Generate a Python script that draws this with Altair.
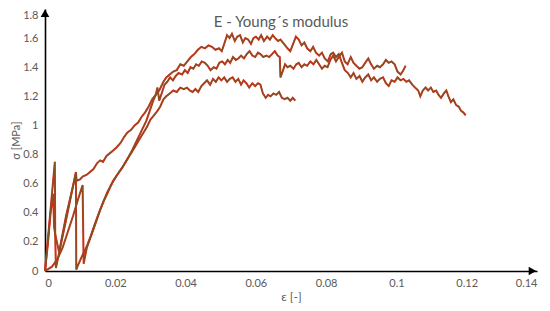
import altair as alt
import pandas as pd

# ---- data ----
a_strain = [0, 0.0012, 0.0028, 0.0029, 0.0031, 0.0060, 0.0088, 0.0090, 0.0100, 0.0108, 0.0118, 0.0128, 0.0138,
            0.0148, 0.0157, 0.0165, 0.0175, 0.0190, 0.0204, 0.0215, 0.0225, 0.0234, 0.0245, 0.0255, 0.0265,
            0.0275, 0.0285, 0.0295, 0.0305, 0.0315, 0.0325, 0.0337, 0.0345, 0.0355, 0.0365, 0.0375, 0.0385,
            0.0395, 0.0405, 0.0415, 0.0425, 0.0435, 0.0445, 0.0455, 0.0465, 0.0475, 0.0485, 0.0495, 0.0503,
            0.0510, 0.0518, 0.0525, 0.0532, 0.0540, 0.0547, 0.0555, 0.0563, 0.0570, 0.0578, 0.0586, 0.0593,
            0.0600, 0.0608, 0.0615, 0.0623, 0.0632, 0.0640, 0.0648, 0.0655, 0.0663, 0.0670, 0.0680, 0.0690,
            0.0698, 0.0706, 0.0714, 0.0722, 0.0730, 0.0738, 0.0746, 0.0755, 0.0763, 0.0771, 0.0780, 0.0788,
            0.0796, 0.0805, 0.0813, 0.0820, 0.0828, 0.0836, 0.0845, 0.0853, 0.0862, 0.0870, 0.0878, 0.0886,
            0.0895, 0.0903, 0.0911, 0.0920, 0.0928, 0.0936, 0.0945, 0.0953, 0.0962, 0.0970, 0.0978, 0.0986,
            0.0995, 0.1003, 0.1012, 0.1020, 0.1028, 0.1036, 0.1045, 0.1053, 0.1062, 0.1068, 0.1075, 0.1083,
            0.1090, 0.1098, 0.1105, 0.1113, 0.1120, 0.1127, 0.1135, 0.1142, 0.1148, 0.1155, 0.1162, 0.1170,
            0.1177, 0.1184, 0.1190, 0.1197]
a_stress = [0, 0.32, 0.75, 0.26, 0.02, 0.35, 0.68, 0.62, 0.63, 0.65, 0.66, 0.68, 0.70,
            0.74, 0.76, 0.75, 0.79, 0.82, 0.85, 0.88, 0.92, 0.95, 0.97, 1.00, 1.02,
            1.06, 1.09, 1.13, 1.18, 1.21, 1.24, 1.30, 1.33, 1.35, 1.37, 1.38, 1.42,
            1.41, 1.44, 1.47, 1.49, 1.52, 1.54, 1.53, 1.55, 1.54, 1.52, 1.53, 1.51,
            1.56, 1.62, 1.60, 1.63, 1.58, 1.61, 1.62, 1.57, 1.60, 1.59, 1.56, 1.60,
            1.61, 1.59, 1.62, 1.58, 1.61, 1.59, 1.62, 1.60, 1.58, 1.59, 1.56, 1.53,
            1.51, 1.56, 1.61, 1.59, 1.55, 1.57, 1.53, 1.51, 1.54, 1.50, 1.48, 1.50,
            1.46, 1.44, 1.49, 1.50, 1.47, 1.49, 1.43, 1.38, 1.36, 1.33, 1.36, 1.32,
            1.34, 1.30, 1.33, 1.35, 1.31, 1.33, 1.30, 1.32, 1.33, 1.29, 1.27, 1.31,
            1.30, 1.33, 1.31, 1.32, 1.30, 1.31, 1.28, 1.26, 1.24, 1.20, 1.24, 1.26,
            1.24, 1.26, 1.23, 1.24, 1.21, 1.19, 1.22, 1.24, 1.20, 1.16, 1.18, 1.14,
            1.13, 1.10, 1.09, 1.07]

b_strain = [0, 0.0020, 0.0035, 0.0050, 0.0065, 0.0080, 0.0095, 0.0107, 0.0110, 0.0119, 0.0128, 0.0137,
            0.0147, 0.0157, 0.0167, 0.0177, 0.0186, 0.0194, 0.0208, 0.0222, 0.0235, 0.0248, 0.0258, 0.0268,
            0.0278, 0.0288, 0.0298, 0.0308, 0.0315, 0.0320, 0.0325, 0.0332, 0.0340, 0.0348, 0.0356, 0.0364,
            0.0372, 0.0380, 0.0390, 0.0398, 0.0406, 0.0414, 0.0422, 0.0430, 0.0438, 0.0446, 0.0455, 0.0463,
            0.0471, 0.0480, 0.0488, 0.0496, 0.0504, 0.0512, 0.0520, 0.0527, 0.0535, 0.0543, 0.0550, 0.0558,
            0.0566, 0.0574, 0.0582, 0.0590, 0.0598, 0.0606, 0.0613, 0.0621, 0.0630, 0.0638, 0.0646, 0.0654,
            0.0662, 0.0668, 0.0670, 0.0676, 0.0683, 0.0690, 0.0698, 0.0707, 0.0715, 0.0722, 0.0730, 0.0738,
            0.0746, 0.0755, 0.0764, 0.0772, 0.0780, 0.0788, 0.0796, 0.0804, 0.0812, 0.0820, 0.0828, 0.0836,
            0.0845, 0.0853, 0.0861, 0.0870, 0.0878, 0.0886, 0.0895, 0.0903, 0.0911, 0.0920, 0.0928, 0.0936,
            0.0945, 0.0953, 0.0962, 0.0970, 0.0978, 0.0986, 0.0995, 0.1003, 0.1012, 0.1020, 0.1026]
b_stress = [0, 0.03, 0.08, 0.16, 0.27, 0.38, 0.50, 0.59, 0.05, 0.16, 0.22, 0.28,
            0.35, 0.42, 0.48, 0.53, 0.58, 0.62, 0.67, 0.72, 0.77, 0.83, 0.88, 0.93,
            0.98, 1.03, 1.10, 1.17, 1.21, 1.26, 1.17, 1.22, 1.28, 1.30, 1.33, 1.31,
            1.34, 1.36, 1.35, 1.38, 1.36, 1.40, 1.39, 1.42, 1.41, 1.44, 1.43, 1.41,
            1.38, 1.40, 1.39, 1.43, 1.44, 1.42, 1.45, 1.43, 1.47, 1.45, 1.46, 1.48,
            1.46, 1.49, 1.51, 1.48, 1.47, 1.50, 1.49, 1.47, 1.48, 1.47, 1.49, 1.51,
            1.48, 1.47, 1.33, 1.37, 1.42, 1.40, 1.41, 1.39, 1.42, 1.43, 1.40, 1.42,
            1.41, 1.44, 1.42, 1.45, 1.42, 1.39, 1.41, 1.40, 1.45, 1.48, 1.44, 1.47,
            1.50, 1.44, 1.42, 1.47, 1.43, 1.41, 1.39, 1.40, 1.43, 1.46, 1.42, 1.39,
            1.41, 1.40, 1.42, 1.45, 1.43, 1.44, 1.42, 1.37, 1.35, 1.38, 1.41]

c_strain = [0, 0.0008, 0.0016, 0.0023, 0.0026, 0.0030, 0.0040, 0.0060, 0.0088, 0.0089, 0.0094, 0.0105,
            0.0119, 0.0130, 0.0140, 0.0152, 0.0165, 0.0177, 0.0190, 0.0205, 0.0220, 0.0234, 0.0245, 0.0258,
            0.0270, 0.0280, 0.0290, 0.0300, 0.0310, 0.0320, 0.0328, 0.0337, 0.0345, 0.0355, 0.0365, 0.0375,
            0.0385, 0.0395, 0.0404, 0.0412, 0.0420, 0.0428, 0.0436, 0.0445, 0.0453, 0.0461, 0.0470, 0.0478,
            0.0486, 0.0494, 0.0502, 0.0510, 0.0518, 0.0526, 0.0534, 0.0542, 0.0550, 0.0558, 0.0565, 0.0573,
            0.0581, 0.0590, 0.0598, 0.0606, 0.0613, 0.0620, 0.0628, 0.0635, 0.0642, 0.0650, 0.0658, 0.0666,
            0.0674, 0.0682, 0.0690, 0.0698, 0.0705, 0.0712]
c_stress = [0, 0.18, 0.40, 0.53, 0.30, 0.24, 0.13, 0.38, 0.67, 0.01, 0.04, 0.10,
            0.17, 0.24, 0.31, 0.39, 0.47, 0.54, 0.60, 0.66, 0.71, 0.77, 0.81, 0.86,
            0.91, 0.95, 0.99, 1.04, 1.07, 1.10, 1.13, 1.18, 1.20, 1.22, 1.24, 1.23,
            1.26, 1.25, 1.26, 1.24, 1.23, 1.25, 1.23, 1.27, 1.29, 1.31, 1.28, 1.32,
            1.30, 1.33, 1.31, 1.33, 1.30, 1.32, 1.33, 1.30, 1.32, 1.28, 1.31, 1.29,
            1.26, 1.29, 1.27, 1.29, 1.28, 1.22, 1.19, 1.21, 1.20, 1.22, 1.21, 1.23,
            1.19, 1.18, 1.19, 1.17, 1.19, 1.17]

x_ticks = [0, 0.02, 0.04, 0.06, 0.08, 0.1, 0.12, 0.14]
y_ticks = [0, 0.2, 0.4, 0.6, 0.8, 1.0, 1.2, 1.4, 1.6, 1.8]

# arrow heads at the ends of the axes
arrow_x = [0.0, 0.1387]
arrow_y = [1.77, 0.0]
arrow_shape = ["triangle-up", "triangle-right"]

rows = []
for name, xs, ys in [("A", a_strain, a_stress), ("B", b_strain, b_stress), ("C", c_strain, c_stress)]:
    for i, (xv, yv) in enumerate(zip(xs, ys)):
        rows.append({"curve": name, "i": i, "strain": xv, "stress": yv})
df = pd.DataFrame(rows)
arrows = pd.DataFrame({"strain": arrow_x, "stress": arrow_y, "shape": arrow_shape})

FONT = "Lato"
GRAY = "#595959"

xscale = alt.Scale(domain=[0, 0.14], nice=False, zero=False)
yscale = alt.Scale(domain=[0, 1.8], nice=False, zero=False)

xaxis = alt.Axis(values=x_ticks, format=".2~f", grid=False, ticks=False, labelOverlap=False,
                 domainColor="black", domainWidth=1.6, labelColor=GRAY, labelFont=FONT,
                 labelFontSize=11, labelPadding=6, titleColor=GRAY, titleFont=FONT,
                 titleFontSize=12, titleFontWeight="normal", titlePadding=3)
yaxis = alt.Axis(values=y_ticks, format=".1~f", grid=False, ticks=False, labelOverlap=False,
                 labelOffset={"condition": {"test": "datum.value >= 1.79", "value": 6}, "value": 0},
                 domainColor="black", domainWidth=1.6, labelColor=GRAY, labelFont=FONT,
                 labelFontSize=11, labelPadding=7, titleColor=GRAY, titleFont=FONT,
                 titleFontSize=11, titleFontWeight="normal", titlePadding=1)
xenc = alt.X("strain:Q", scale=xscale, title="ε [-]", axis=xaxis)
yenc = alt.Y("stress:Q", scale=yscale, title="σ [MPa]", axis=yaxis)

base = alt.Chart(df)
red = base.mark_line(color="#e02a1c", strokeWidth=2.0).encode(
    x=xenc, y=yenc, detail="curve:N", order="i:Q")
olive = base.mark_line(color="#6f5a22", strokeWidth=1.1, opacity=0.85).encode(
    x=xenc, y=yenc, detail="curve:N", order="i:Q")
heads = alt.Chart(arrows).mark_point(filled=True, color="black", size=75, opacity=1).encode(
    x=xenc, y=yenc,
    shape=alt.Shape("shape:N", scale=None, legend=None))

chart = alt.layer(red, olive, heads).properties(
    width=492, height=262,
    title=alt.TitleParams("E - Young´s modulus", font=FONT, fontSize=15, fontWeight="normal",
                          color=GRAY, anchor="middle", dx=-10, offset=-21),
    autosize=alt.AutoSizeParams(type="none"),
    padding={"left": 37, "top": 1, "right": 5, "bottom": 32},
).configure_view(stroke=None)

chart.save("out.html", embed_options={"renderer": "svg", "actions": False})
